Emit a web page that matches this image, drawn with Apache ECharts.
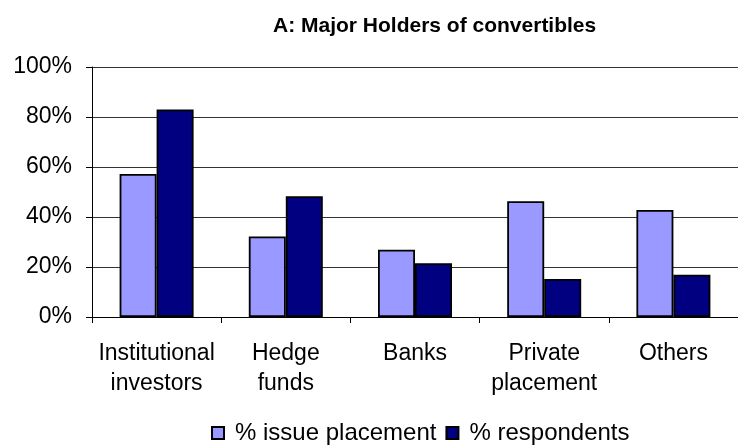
<!DOCTYPE html>
<html>
<head>
<meta charset="utf-8">
<script src="https://cdn.jsdelivr.net/npm/echarts@6/dist/echarts.min.js"></script>
<style>
    html, body { margin: 0; padding: 0; background: #fff; }
    #chart { width: 738px; height: 448px; }
</style>
</head>
<body>
<div id="chart"></div>
<script>
// chart data
const categories = ['Institutional\ninvestors', 'Hedge\nfunds', 'Banks', 'Private\nplacement', 'Others'];
const issuePlacement = [57.2, 32.2, 26.9, 46.3, 42.8];
const respondents = [83.0, 48.3, 21.5, 15.2, 16.9];
const yTicks = [0, 20, 40, 60, 80, 100];

const font = 'Liberation Sans, Arial, sans-serif';
const chart = echarts.init(document.getElementById('chart'));

chart.setOption({
    animation: false,
    title: {
        text: 'A: Major Holders of convertibles',
        left: 268,
        top: 11,
        textStyle: { fontFamily: font, fontWeight: 'bold', fontSize: 21, color: '#000' }
    },
    legend: {
        left: 206,
        top: 416,
        itemWidth: 12,
        itemHeight: 12,
        itemGap: 9,
        icon: 'rect',
        textStyle: { fontFamily: font, fontSize: 24, color: '#000', padding: [0, 0, 0, 6] },
        data: ['% issue placement', '% respondents']
    },
    grid: {
        left: 92,
        top: 67,
        width: 652,
        height: 250
    },
    xAxis: {
        type: 'category',
        data: categories,
        axisLine: { lineStyle: { color: '#000', width: 1 } },
        axisTick: { show: true, length: 6, lineStyle: { color: '#000' } },
        axisLabel: { fontFamily: font, fontSize: 23, color: '#000', margin: 22, lineHeight: 30, interval: 0 }
    },
    yAxis: {
        type: 'value',
        min: yTicks[0],
        max: yTicks[yTicks.length - 1],
        interval: 20,
        axisLine: { show: true, lineStyle: { color: '#000', width: 1 } },
        axisTick: { show: true, length: 6, lineStyle: { color: '#000' } },
        axisLabel: {
            fontFamily: font, fontSize: 23, color: '#000', margin: 20,
            formatter: v => v + '%'
        },
        splitLine: { show: true, lineStyle: { color: '#333', width: 1 } }
    },
    series: [{
        name: '% issue placement',
        type: 'bar',
        data: issuePlacement,
        barWidth: 37,
        barGap: '0%',
        itemStyle: { color: '#9999FF', borderColor: '#000', borderWidth: 1.8 }
    }, {
        name: '% respondents',
        type: 'bar',
        data: respondents,
        barWidth: 37,
        barGap: '0%',
        itemStyle: { color: '#000080', borderColor: '#000', borderWidth: 1.8 }
    }]
});
</script>
</body>
</html>
